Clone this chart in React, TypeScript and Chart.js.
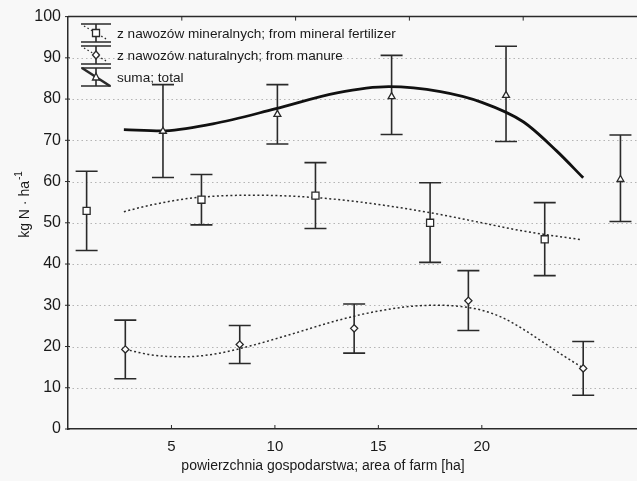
import React, { useEffect, useRef } from "react";
import { Chart, registerables } from "chart.js";

Chart.register(...registerables);

// ---- data ----
const mineralX = [0.9, 6.45, 11.96, 17.5, 23.04];
const mineralMean = [52.9, 55.6, 56.6, 50.0, 46.0];
const mineralLow = [43.3, 49.5, 48.6, 40.4, 37.2];
const mineralHigh = [62.5, 61.7, 64.6, 59.7, 54.9];

const manureX = [2.77, 8.3, 13.83, 19.35, 24.9];
const manureMean = [19.3, 20.5, 24.4, 31.1, 14.7];
const manureLow = [12.2, 15.9, 18.4, 23.9, 8.2];
const manureHigh = [26.4, 25.1, 30.3, 38.4, 21.2];

const totalX = [4.59, 10.12, 15.64, 21.17, 26.7];
const totalMean = [72.2, 76.3, 80.6, 80.9, 60.5];
const totalLow = [61.0, 69.1, 71.4, 69.7, 50.3];
const totalHigh = [83.5, 83.5, 90.6, 92.8, 71.3];

const totalFitX = [2.7, 4.5, 7, 10, 13, 15.5, 18, 20, 22, 23.6, 24.9];
const totalFitY = [72.6, 72.3, 74.0, 77.6, 81.5, 83.0, 81.8, 79.2, 74.5, 67.5, 60.9];

const mineralFitX = [2.7, 4, 6, 9, 12, 14, 16, 18, 20, 22, 24.8];
const mineralFitY = [52.7, 54.3, 56.0, 56.7, 56.1, 55.1, 53.7, 52.0, 50.0, 48.0, 45.9];

const manureFitX = [2.77, 4, 5.5, 7, 9, 11, 13, 15, 17, 18, 19, 20, 21, 22, 23, 24, 24.8];
const manureFitY = [19.3, 18.0, 17.5, 18.1, 20.4, 23.3, 26.3, 28.6, 29.9, 30.0, 29.7, 28.8, 27.0, 24.2, 20.9, 17.6, 15.1];

const xTickLabels = [5, 10, 15, 20];
const topTicks = [5.5, 11, 16.5, 22];
const yTickValues = [0, 10, 20, 30, 40, 50, 60, 70, 80, 90, 100];
const gridValues = [10, 20, 30, 40, 50, 60, 70, 80, 90];

const legendLabels = [
  "z nawozów mineralnych; from mineral fertilizer",
  "z nawozów naturalnych; from manure",
  "suma; total",
];
const xTitle = "powierzchnia gospodarstwa; area of farm [ha]";
const yTitleMain = "kg N · ha";
const yTitleSup = "-1";

const INK = "#2a2a2a";
const TEXT = "#1a1a1a";
const FONT = "'Liberation Sans', Arial, sans-serif";

const pts = (xs: number[], ys: number[]) => xs.map((x, i) => ({ x, y: ys[i] }));

const errorGroups = [
  { xs: mineralX, lo: mineralLow, hi: mineralHigh },
  { xs: manureX, lo: manureLow, hi: manureHigh },
  { xs: totalX, lo: totalLow, hi: totalHigh },
];

const decorPlugin = {
  id: "decor",
  afterLayout(chart: any) {
    // let the plot area run to the right edge of the canvas, as in the reference
    const ca = chart.chartArea;
    const target = chart.width;
    if (ca.right < target) {
      ca.right = target;
      ca.width = ca.right - ca.left;
      const xs = chart.scales.x;
      xs.right = target;
      xs.width = xs.right - xs.left;
      if (typeof xs.configure === "function") xs.configure();
    }
  },
  beforeDatasetsDraw(chart: any) {
    const { ctx, chartArea, scales } = chart;
    const xs = scales.x;
    const ys = scales.y;
    ctx.save();
    // dotted grid lines
    ctx.strokeStyle = "#b5b5b5";
    ctx.lineWidth = 1;
    ctx.setLineDash([1.5, 3]);
    gridValues.forEach((v) => {
      const y = Math.round(ys.getPixelForValue(v)) + 0.5;
      ctx.beginPath();
      ctx.moveTo(chartArea.left, y);
      ctx.lineTo(chartArea.right, y);
      ctx.stroke();
    });
    ctx.setLineDash([]);
    // frame top
    ctx.strokeStyle = INK;
    ctx.lineWidth = 1.5;
    ctx.beginPath();
    ctx.moveTo(chartArea.left, chartArea.top);
    ctx.lineTo(chartArea.right, chartArea.top);
    ctx.stroke();
    // ticks
    ctx.lineWidth = 1;
    yTickValues.forEach((v) => {
      const y = ys.getPixelForValue(v);
      ctx.beginPath();
      ctx.moveTo(chartArea.left - 3, y);
      ctx.lineTo(chartArea.left + 2, y);
      ctx.stroke();
    });
    xTickLabels.forEach((v) => {
      const x = xs.getPixelForValue(v);
      ctx.beginPath();
      ctx.moveTo(x, chartArea.bottom);
      ctx.lineTo(x, chartArea.bottom - 4);
      ctx.stroke();
    });
    topTicks.forEach((v) => {
      const x = xs.getPixelForValue(v);
      ctx.beginPath();
      ctx.moveTo(x, chartArea.top);
      ctx.lineTo(x, chartArea.top + 4);
      ctx.stroke();
    });
    // error bars
    ctx.strokeStyle = INK;
    ctx.lineWidth = 1.6;
    errorGroups.forEach((g) => {
      g.xs.forEach((xv, i) => {
        const x = xs.getPixelForValue(xv);
        const y1 = ys.getPixelForValue(g.lo[i]);
        const y2 = ys.getPixelForValue(g.hi[i]);
        ctx.beginPath();
        ctx.moveTo(x, y1);
        ctx.lineTo(x, y2);
        ctx.moveTo(x - 11, y1);
        ctx.lineTo(x + 11, y1);
        ctx.moveTo(x - 11, y2);
        ctx.lineTo(x + 11, y2);
        ctx.stroke();
      });
    });
    ctx.restore();
  },
  afterDraw(chart: any) {
    const { ctx, chartArea } = chart;
    ctx.save();
    // x title
    ctx.fillStyle = TEXT;
    ctx.font = `14px ${FONT}`;
    ctx.textAlign = "center";
    ctx.textBaseline = "middle";
    ctx.fillText(xTitle, 323, 466);
    // y title with superscript
    ctx.translate(25, 205);
    ctx.rotate(-Math.PI / 2);
    ctx.font = `14px ${FONT}`;
    const w1 = ctx.measureText(yTitleMain).width;
    ctx.font = `10px ${FONT}`;
    const w2 = ctx.measureText(yTitleSup).width;
    const start = -(w1 + w2) / 2;
    ctx.textBaseline = "middle";
    ctx.textAlign = "left";
    ctx.font = `14px ${FONT}`;
    ctx.fillText(yTitleMain, start, 0);
    ctx.font = `10px ${FONT}`;
    ctx.fillText(yTitleSup, start + w1 + 1, -6);
    ctx.restore();

    // legend
    ctx.save();
    const cx = chartArea.left + 28;
    const rows = [33, 55, 77];
    const half = 9;
    rows.forEach((cy, r) => {
      ctx.strokeStyle = INK;
      ctx.lineWidth = 1.6;
      ctx.setLineDash([]);
      ctx.beginPath();
      ctx.moveTo(cx, cy - half);
      ctx.lineTo(cx, cy + half);
      ctx.moveTo(cx - 15, cy - half);
      ctx.lineTo(cx + 15, cy - half);
      ctx.moveTo(cx - 15, cy + half);
      ctx.lineTo(cx + 15, cy + half);
      ctx.stroke();
      if (r < 2) {
        ctx.lineWidth = 1.3;
        ctx.setLineDash([1.5, 2.5]);
        ctx.beginPath();
        ctx.moveTo(cx - 12, cy - half + 2);
        ctx.lineTo(cx + 12, cy + half - 2);
        ctx.stroke();
        ctx.setLineDash([]);
      } else {
        ctx.lineWidth = 2.6;
        ctx.beginPath();
        ctx.moveTo(cx - 14, cy - half);
        ctx.lineTo(cx + 14, cy + half);
        ctx.stroke();
      }
      // marker
      ctx.lineWidth = 1.3;
      ctx.fillStyle = "#ffffff";
      ctx.beginPath();
      if (r === 0) {
        ctx.rect(cx - 3.5, cy - 3.5, 7, 7);
      } else if (r === 1) {
        ctx.moveTo(cx, cy - 4);
        ctx.lineTo(cx + 3.5, cy);
        ctx.lineTo(cx, cy + 4);
        ctx.lineTo(cx - 3.5, cy);
        ctx.closePath();
      } else {
        ctx.moveTo(cx, cy - 4);
        ctx.lineTo(cx + 3.5, cy + 3);
        ctx.lineTo(cx - 3.5, cy + 3);
        ctx.closePath();
      }
      ctx.fill();
      ctx.stroke();
      ctx.fillStyle = TEXT;
      ctx.font = `13.6px ${FONT}`;
      ctx.textAlign = "left";
      ctx.textBaseline = "middle";
      ctx.fillText(legendLabels[r], chartArea.left + 49, cy + 1);
    });
    ctx.restore();
  },
};

export default function App() {
  const ref = useRef<HTMLCanvasElement | null>(null);
  useEffect(() => {
    document.body.style.margin = "0";
    document.body.style.background = "#f8f8f8";
    if (!ref.current) return;
    const markerCommon = {
      showLine: false,
      borderColor: INK,
      backgroundColor: "#ffffff",
      borderWidth: 1.3,
    };
    const chart = new Chart(ref.current, {
      type: "scatter",
      data: {
        datasets: [
          { ...markerCommon, label: "mineral", data: pts(mineralX, mineralMean), pointStyle: "rect", pointRadius: 5 },
          { ...markerCommon, label: "manure", data: pts(manureX, manureMean), pointStyle: "rectRot", pointRadius: 3.6 },
          { ...markerCommon, label: "total", data: pts(totalX, totalMean), pointStyle: "triangle", pointRadius: 4 },
          {
            label: "totalFit",
            data: pts(totalFitX, totalFitY),
            showLine: true,
            pointRadius: 0,
            borderColor: "#111111",
            borderWidth: 2.8,
            cubicInterpolationMode: "monotone",
          },
          {
            label: "mineralFit",
            data: pts(mineralFitX, mineralFitY),
            showLine: true,
            pointRadius: 0,
            borderColor: INK,
            borderWidth: 1.5,
            borderDash: [2, 2.5],
            cubicInterpolationMode: "monotone",
          },
          {
            label: "manureFit",
            data: pts(manureFitX, manureFitY),
            showLine: true,
            pointRadius: 0,
            borderColor: INK,
            borderWidth: 1.5,
            borderDash: [2, 2.5],
            cubicInterpolationMode: "monotone",
          },
        ],
      },
      options: {
        animation: false,
        responsive: false,
        maintainAspectRatio: false,
        layout: { padding: { top: 16, right: 0, left: 0, bottom: 0 } },
        plugins: { legend: { display: false }, tooltip: { enabled: false } },
        scales: {
          x: {
            type: "linear",
            min: 0,
            max: 27.5,
            afterFit: (s: any) => {
              s.height = 52;
              s.paddingRight = 0;
              s.paddingLeft = 0;
            },
            grid: { display: true, drawOnChartArea: false, drawTicks: false },
            border: { display: true, color: INK, width: 1.5 },
            ticks: {
              stepSize: 5,
              padding: 9,
              color: TEXT,
              font: { family: FONT, size: 15 },
              callback: (v: any) => (xTickLabels.includes(Number(v)) ? String(v) : ""),
            },
          },
          y: {
            type: "linear",
            min: 0,
            max: 100,
            afterFit: (s: any) => {
              s.width = 68;
            },
            grid: { display: true, drawOnChartArea: false, drawTicks: false },
            border: { display: true, color: INK, width: 1.5 },
            ticks: {
              stepSize: 10,
              padding: 7,
              color: TEXT,
              font: { family: FONT, size: 16 },
            },
          },
        },
      },
      plugins: [decorPlugin],
    } as any);
    return () => chart.destroy();
  }, []);
  return (
    <div style={{ width: 637, height: 481, background: "#f8f8f8" }}>
      <canvas ref={ref} width={637} height={481} style={{ display: "block" }} />
    </div>
  );
}
